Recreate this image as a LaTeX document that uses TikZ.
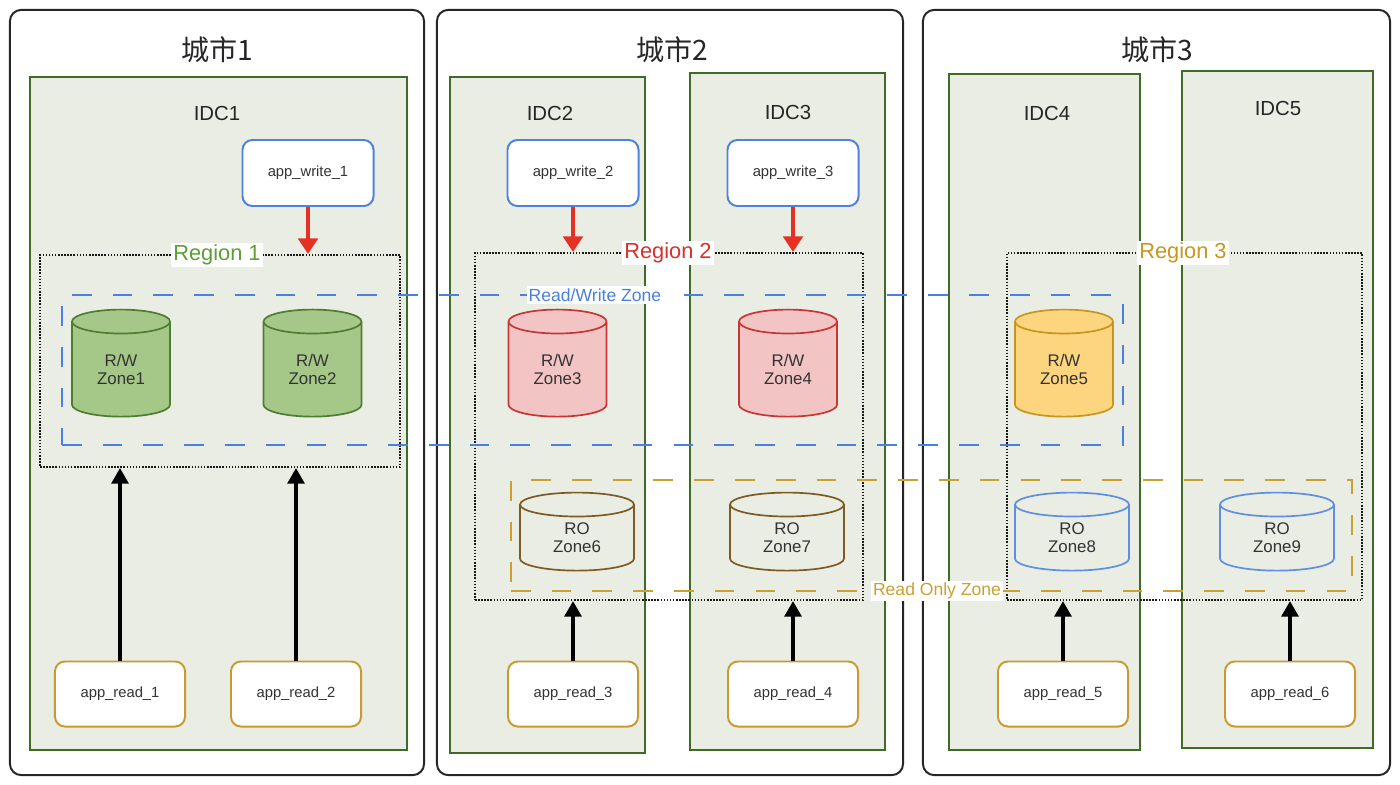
\documentclass[tikz,border=0pt]{standalone}
\usepackage{fontspec}
\setmainfont{Liberation Sans}
\newfontfamily\cjkfont{Noto Sans CJK SC}
\usepackage{xcolor}
\usetikzlibrary{shapes.geometric,arrows.meta,positioning,calc}

\definecolor{idcfill}{HTML}{E9EDE4}
\definecolor{idcline}{HTML}{3E6B26}
\definecolor{writeblue}{HTML}{4F82DA}
\definecolor{readgold}{HTML}{C99A34}
\definecolor{arrred}{HTML}{E53024}
\definecolor{rwgreen}{HTML}{A5C889}
\definecolor{rwgreenline}{HTML}{4E7D32}
\definecolor{rwred}{HTML}{F2C4C4}
\definecolor{rwredline}{HTML}{C83535}
\definecolor{rwyellow}{HTML}{FDD57E}
\definecolor{rwyellowline}{HTML}{C8961E}
\definecolor{robrown}{HTML}{7D5A22}
\definecolor{roblue}{HTML}{5F8FE0}
\definecolor{zoneblue}{HTML}{4A80E0}
\definecolor{zonegold}{HTML}{C9A032}
\definecolor{regiongreen}{HTML}{5E9E32}
\definecolor{regionred}{HTML}{D83129}
\definecolor{regiongold}{HTML}{C9961E}
\definecolor{txt}{HTML}{333333}

\begin{document}
\begin{tikzpicture}[
  x=0.025cm, y=-0.025cm,
  city/.style={draw=black!85, line width=1.4pt, rounded corners=8pt, inner sep=0pt},
  citytitle/.style={font=\cjkfont\fontsize{20}{24}\selectfont, text=black!85},
  idc/.style={draw=idcline, fill=idcfill, line width=1.2pt, inner sep=0pt},
  idctitle/.style={font=\fontsize{14.5}{17}\selectfont, text=black!85},
  region/.style={draw=black!90, dash pattern=on 1.1pt off 1.1pt, line width=1.5pt, inner sep=0pt},
  reglabel/.style={fill=white, inner sep=1.5pt, font=\fontsize{15.5}{18}\selectfont},
  zone/.style={dash pattern=on 14pt off 15pt, line width=1.6pt, inner sep=0pt},
  zonelabel/.style={fill=white, inner sep=1.5pt, font=\fontsize{12.5}{15}\selectfont},
  cyl/.style={cylinder, shape border rotate=90, aspect=0.5, draw, line width=1.2pt,
              align=center, text=txt, inner sep=0pt, font=\fontsize{12}{13}\selectfont},
  rwcyl/.style={cyl, minimum width=2.45cm, minimum height=2.675cm},
  rocyl/.style={cyl, minimum width=2.85cm, minimum height=1.95cm},
  appw/.style={draw=writeblue, fill=white, line width=1.4pt, rounded corners=7pt,
               minimum width=3.275cm, minimum height=1.65cm, text=txt,
               font=\fontsize{10.5}{12}\selectfont},
  appr/.style={appw, draw=readgold, minimum width=3.25cm, minimum height=1.625cm},
  warr/.style={-{Triangle[length=11pt,width=14pt]}, draw=arrred, fill=arrred, line width=2.2pt},
  rarr/.style={-{Triangle[length=11pt,width=12pt]}, draw=black, line width=2.2pt}
]
\useasboundingbox (0,0) rectangle (1400,784);

% cities
\node[city, minimum width=10.35cm, minimum height=19.125cm] (city1) at (217,392.5) {};
\node[city, minimum width=11.65cm, minimum height=19.125cm] (city2) at (670,392.5) {};
\node[city, minimum width=11.675cm, minimum height=19.125cm] (city3) at (1156.5,392.5) {};
\node[citytitle] (ct1) at (217,50) {城市1};
\node[citytitle] (ct2) at (672,50) {城市2};
\node[citytitle] (ct3) at (1157,50) {城市3};

% data centres
\node[idc, minimum width=9.425cm, minimum height=16.825cm] (idc1) at (218.5,413.5) {};
\node[idc, minimum width=4.875cm, minimum height=16.9cm] (idc2) at (547.5,415) {};
\node[idc, minimum width=4.875cm, minimum height=16.925cm] (idc3) at (787.5,411.5) {};
\node[idc, minimum width=4.775cm, minimum height=16.9cm] (idc4) at (1044.5,412) {};
\node[idc, minimum width=4.775cm, minimum height=16.925cm] (idc5) at (1277.5,409.5) {};
\node[idctitle] (it1) at (217,113) {IDC1};
\node[idctitle] (it2) at (550,113) {IDC2};
\node[idctitle] (it3) at (788,112) {IDC3};
\node[idctitle] (it4) at (1047,113) {IDC4};
\node[idctitle] (it5) at (1278,108) {IDC5};

% regions
\node[region, minimum width=9cm, minimum height=5.3cm] (reg1) at (220,361) {};
\node[region, minimum width=9.7cm, minimum height=8.675cm] (reg2) at (669,426.5) {};
\node[region, minimum width=8.875cm, minimum height=8.675cm] (reg3) at (1184.5,426.5) {};

% zones
\node[zone, draw=zoneblue, minimum width=26.525cm, minimum height=3.75cm] (rwz) at (592.5,370) {};
\node[zone, draw=zonegold, minimum width=21.025cm, minimum height=2.775cm] (roz) at (931.5,535.5) {};

% read/write zones
\node[rwcyl, fill=rwgreen, draw=rwgreenline] (z1) at (121,369.5) {R/W\\Zone1};
\node[rwcyl, fill=rwgreen, draw=rwgreenline] (z2) at (312.5,369.5) {R/W\\Zone2};
\node[rwcyl, fill=rwred, draw=rwredline] (z3) at (557.5,369.5) {R/W\\Zone3};
\node[rwcyl, fill=rwred, draw=rwredline] (z4) at (788,369.5) {R/W\\Zone4};
\node[rwcyl, fill=rwyellow, draw=rwyellowline] (z5) at (1064,369.5) {R/W\\Zone5};

% read only zones
\node[rocyl, draw=robrown] (z6) at (577,538) {RO\\Zone6};
\node[rocyl, draw=robrown] (z7) at (787,538) {RO\\Zone7};
\node[rocyl, draw=roblue] (z8) at (1072,538) {RO\\Zone8};
\node[rocyl, draw=roblue] (z9) at (1277,538) {RO\\Zone9};

% writers
\node[appw] (aw1) at (308,173) {app\_write\_1};
\node[appw] (aw2) at (573,173) {app\_write\_2};
\node[appw] (aw3) at (793,173) {app\_write\_3};

% readers
\node[appr] (ar1) at (120,694) {app\_read\_1};
\node[appr] (ar2) at (296,694) {app\_read\_2};
\node[appr] (ar3) at (573,694) {app\_read\_3};
\node[appr] (ar4) at (793,694) {app\_read\_4};
\node[appr] (ar5) at (1063,694) {app\_read\_5};
\node[appr] (ar6) at (1290,694) {app\_read\_6};

\draw[warr] (aw1.south) -- (aw1.south |- reg1.north);
\draw[warr] (aw2.south) -- (aw2.south |- reg2.north);
\draw[warr] (aw3.south) -- (aw3.south |- reg2.north);

\draw[rarr] (ar1.north) -- (ar1.north |- reg1.south);
\draw[rarr] (ar2.north) -- (ar2.north |- reg1.south);
\draw[rarr] (ar3.north) -- (ar3.north |- reg2.south);
\draw[rarr] (ar4.north) -- (ar4.north |- reg2.south);
\draw[rarr] (ar5.north) -- (ar5.north |- reg3.south);
\draw[rarr] (ar6.north) -- (ar6.north |- reg3.south);

% labels on the borders
\node[reglabel, text=regiongreen] (rl1) at (217,255) {Region 1};
\node[reglabel, text=regionred] (rl2) at (668,253) {Region 2};
\node[reglabel, text=regiongold] (rl3) at (1183,253) {Region 3};
\node[zonelabel, text=zoneblue] (rwl) at (595,295) {Read/Write Zone};
\node[zonelabel, text=zonegold] (rol) at (937,591) {Read Only Zone};
\end{tikzpicture}
\end{document}
